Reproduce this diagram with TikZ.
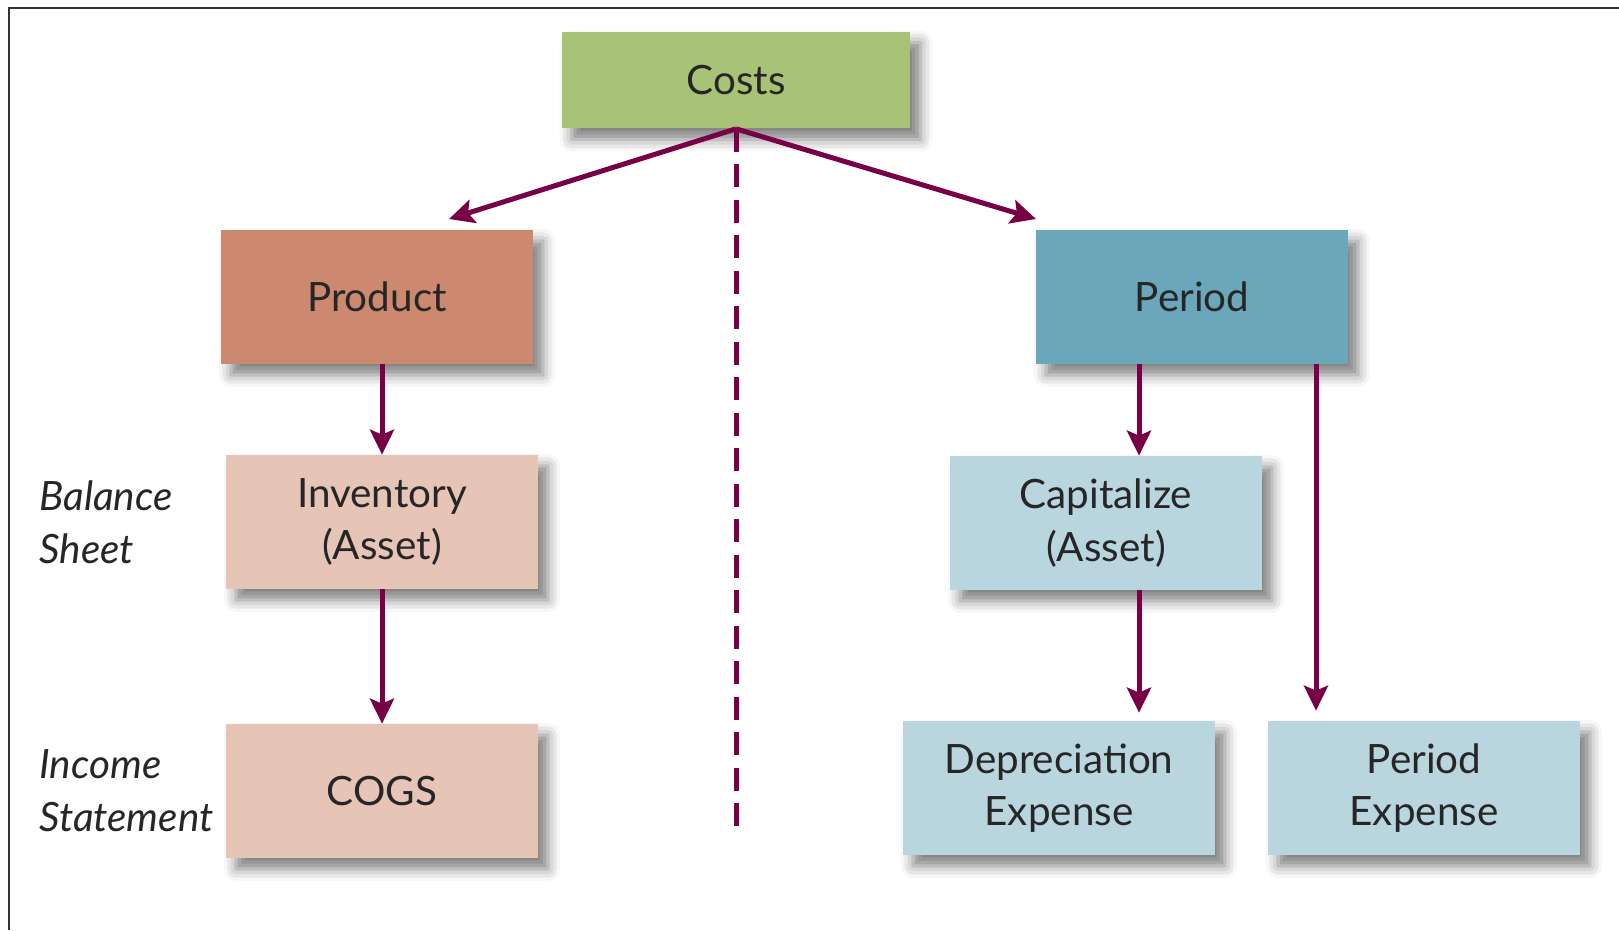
\documentclass[tikz,border=0pt]{standalone}
\usepackage{fontspec}
\setmainfont{Lato}
\usetikzlibrary{arrows.meta,shadows.blur}

\definecolor{costgreen}{HTML}{A8C276}
\definecolor{prodred}{HTML}{CC8970}
\definecolor{prodlight}{HTML}{E6C5B6}
\definecolor{perblue}{HTML}{6AA7BA}
\definecolor{perlight}{HTML}{B9D6DF}
\definecolor{arrowcol}{HTML}{780046}
\definecolor{txt}{HTML}{262626}
\definecolor{framecol}{HTML}{333333}

\tikzset{
  box/.style={rectangle, minimum width=6.24cm, minimum height=2.68cm,
    align=center, inner sep=0pt, text=txt,
    font=\fontsize{23}{30}\selectfont,
    blur shadow={shadow xshift=0.2cm, shadow yshift=-0.22cm,
      shadow blur radius=0.24cm, shadow opacity=50}},
  arr/.style={-{Stealth[length=0.5cm,width=0.48cm,inset=0.1cm]},
    line width=0.1cm, arrowcol},
  side/.style={anchor=west, align=left, inner sep=0pt, text=txt,
    font=\fontsize{23}{30}\selectfont\itshape}
}

\begin{document}
\begin{tikzpicture}[x=0.02cm,y=-0.02cm]
  \useasboundingbox (0,0) rectangle (1619,930);
  \draw[line width=0.05cm, framecol] (9,930) |- (1619,8);

  % boxes
  \node[box, fill=costgreen, minimum width=6.98cm, minimum height=1.94cm] (costs) at (736,80) {Costs};
  \node[box, fill=prodred] (prod) at (377,297) {Product};
  \node[box, fill=prodlight] (inv) at (382,522) {Inventory\\(Asset)};
  \node[box, fill=prodlight] (cogs) at (382,791) {COGS};
  \node[box, fill=perblue] (per) at (1192,297) {Period};
  \node[box, fill=perlight] (cap) at (1106,523) {Capitalize\\(Asset)};
  \node[box, fill=perlight] (dep) at (1059,788) {Depreciation\\Expense};
  \node[box, fill=perlight] (pexp) at (1424,788) {Period\\Expense};

  % row labels
  \node[side] (bs) at (39,522) {Balance\\Sheet};
  \node[side] (is) at (39,791) {Income\\Statement};

  \coordinate (pl) at (449,219);
  \coordinate (pr) at (1036,219);
  \coordinate (dl) at (738,826);
  \coordinate (cx) at (1139,0);
  \coordinate (px) at (1316,0);

  % connectors
  \draw[arr] (costs.south) -- (pl);
  \draw[arr] (costs.south) -- (pr);
  \draw[line width=0.1cm, arrowcol, dash pattern=on 0.46cm off 0.25cm] (costs.south) -- (costs.south |- dl);
  \draw[arr] (prod.south -| inv.north) -- (inv.north);
  \draw[arr] (inv.south) -- (cogs.north);
  \draw[arr] (per.south -| cx) -- (cap.north -| cx);
  \draw[arr, shorten >=0.16cm] (cap.south -| cx) -- (dep.north -| cx);
  \draw[arr, shorten >=0.2cm] (per.south -| px) -- (pexp.north -| px);
\end{tikzpicture}
\end{document}
